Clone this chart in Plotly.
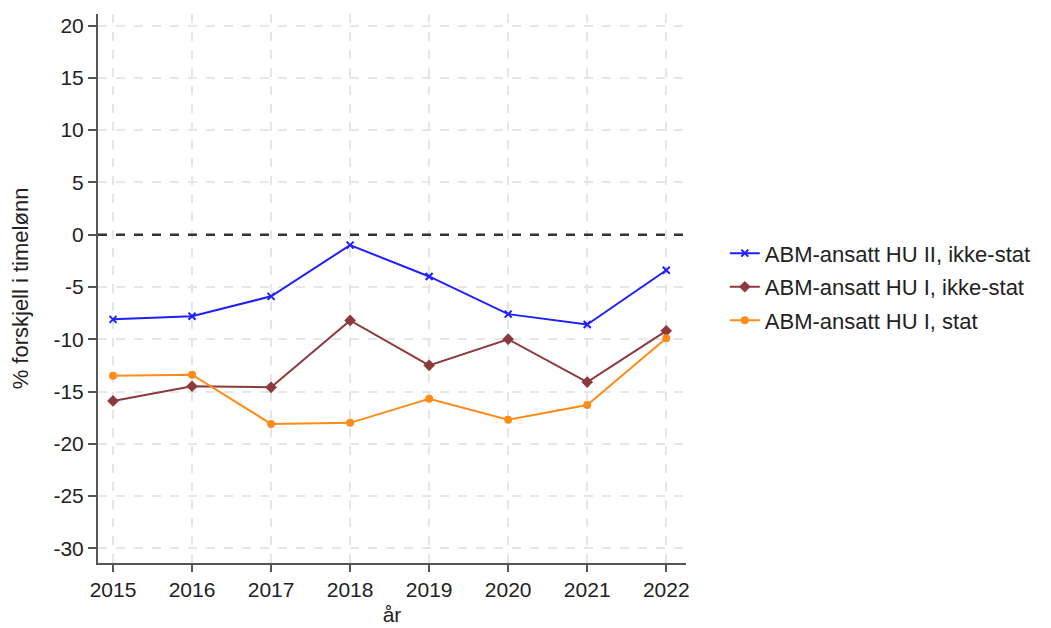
import plotly.graph_objects as go

years = [2015, 2016, 2017, 2018, 2019, 2020, 2021, 2022]
hu2_ikke_stat = [-8.1, -7.8, -5.9, -1.0, -4.0, -7.6, -8.6, -3.4]
hu1_ikke_stat = [-15.9, -14.5, -14.6, -8.2, -12.5, -10.0, -14.1, -9.2]
hu1_stat = [-13.5, -13.4, -18.1, -18.0, -15.7, -17.7, -16.3, -9.9]
names = ["ABM-ansatt HU II, ikke-stat", "ABM-ansatt HU I, ikke-stat", "ABM-ansatt HU I, stat"]
y_ticks = [-30, -25, -20, -15, -10, -5, 0, 5, 10, 15, 20]
y_ticktext = ["-30", "-25", "-20", "-15", "-10", "-5", "0", "5", "10", "15", "20"]

fig = go.Figure()
fig.add_trace(go.Scatter(x=years, y=hu2_ikke_stat, name=names[0], mode="lines+markers",
                         legendgroup="a",
                         line=dict(color="#1f1fff", width=2),
                         marker=dict(symbol="x-thin", size=7, color="#1f1fff",
                                     line=dict(color="#1f1fff", width=2))))
fig.add_trace(go.Scatter(x=years, y=hu1_ikke_stat, name=names[1], mode="lines+markers",
                         legendgroup="b",
                         line=dict(color="#8c3a3e", width=2),
                         marker=dict(symbol="diamond", size=9, color="#8c3a3e")))
fig.add_trace(go.Scatter(x=years, y=hu1_stat, name=names[2], mode="lines+markers",
                         legendgroup="c",
                         line=dict(color="#ff8c1a", width=2),
                         marker=dict(symbol="circle", size=8, color="#ff8c1a")))

fig.add_shape(type="line", xref="paper", x0=0, x1=1, yref="y", y0=0, y1=0,
              line=dict(color="#333333", width=2.5, dash="dash"), layer="above")

font_fam = "Liberation Sans, Arial, sans-serif"
fig.update_layout(
    width=1051, height=628,
    paper_bgcolor="white", plot_bgcolor="white",
    margin=dict(l=90, r=373, t=6, b=73, autoexpand=False),
    font=dict(family=font_fam, color="#222222", size=21),
    legend=dict(x=1.066, y=0.503, xanchor="left", yanchor="middle",
                font=dict(size=22, color="#222222"), bgcolor="rgba(0,0,0,0)",
                tracegroupgap=2, traceorder="grouped"),
    xaxis=dict(range=[2014.81, 2022.25], tickvals=years, ticktext=[str(y) for y in years],
               automargin=False,
               showline=True, linecolor="#555555", linewidth=2, ticks="outside",
               ticklen=7, tickcolor="#555555", tickwidth=1.5,
               showgrid=True, gridcolor="#e6e6e6", griddash="dash", gridwidth=1.5,
               zeroline=False,
               title=dict(text="år", font=dict(size=21), standoff=7),
               tickfont=dict(size=21)),
    yaxis=dict(range=[-31.4, 21.1], tickvals=y_ticks, ticktext=y_ticktext,
               automargin=False,
               showline=True, linecolor="#555555", linewidth=2, ticks="outside",
               ticklen=8, tickcolor="#555555", tickwidth=1.5,
               showgrid=True, gridcolor="#e6e6e6", griddash="dash", gridwidth=1.5,
               zeroline=False,
               title=dict(text="% forskjell i timelønn", font=dict(size=22), standoff=26),
               tickfont=dict(size=21)),
)

fig.write_html("out.html")
